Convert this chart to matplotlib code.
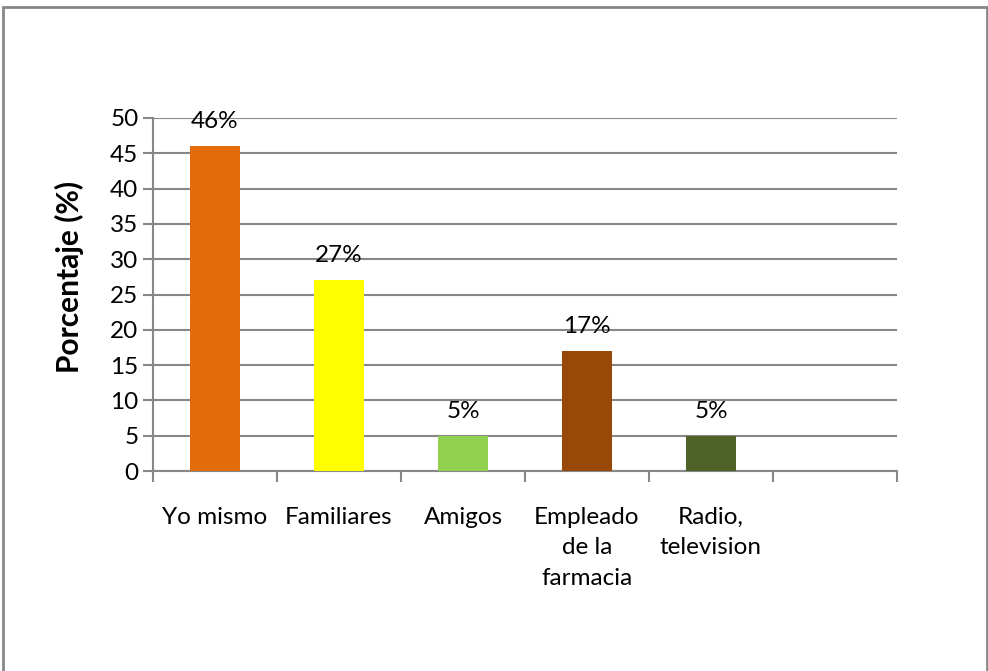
import matplotlib.pyplot as plt
import matplotlib.patches as mpatches
import numpy as np

plt.rcParams['font.family'] = ['Lato', 'DejaVu Sans']

categorias = ['Yo mismo', 'Familiares', 'Amigos', 'Empleado\nde la\nfarmacia', 'Radio,\ntelevision', '']
porcentajes = [46, 27, 5, 17, 5, 0]
etiquetas = ['46%', '27%', '5%', '17%', '5%', '']
colores = ['#E36C0A', '#FFFF00', '#92D050', '#984807', '#4F6228', 'none']

fig = plt.figure(figsize=(9.88, 6.71), dpi=100)
ax = fig.add_axes([153/988, 1 - 471/671, (897 - 153)/988, (471 - 118)/671])

x = np.arange(len(categorias))
bars = ax.bar(x, porcentajes, 0.4, color=colores, zorder=3)

for xi, v, t in zip(x, porcentajes, etiquetas):
    if t:
        ax.annotate(t, (xi, v), xytext=(0, 10), textcoords='offset points',
                    ha='center', va='bottom', fontsize=17.5, color='black')

ax.set_xlim(-0.5, len(categorias) - 0.5)
ax.set_ylim(0, 50)
ax.set_yticks(np.arange(0, 51, 5))
ax.yaxis.grid(True, color='#878787', linewidth=1.5, zorder=0)

# category boundaries as major ticks, names on minor ticks
ax.set_xticks(np.arange(-0.5, len(categorias)), labels=[''] * (len(categorias) + 1))
ax.set_xticks(x, labels=categorias, minor=True)
for lab in ax.get_xticklabels(minor=True):
    lab.set_linespacing(1.55)
ax.tick_params(axis='x', which='major', length=8, width=1.5, color='#878787')
ax.tick_params(axis='x', which='minor', length=0, pad=26, labelsize=17.5)
ax.tick_params(axis='y', length=7, width=1.5, color='#878787', labelsize=17.5)

for s in ['top', 'right']:
    ax.spines[s].set_visible(False)
for s in ['left', 'bottom']:
    ax.spines[s].set_color('#878787')
    ax.spines[s].set_linewidth(1.5)

ax.set_ylabel('Porcentaje (%)', fontsize=21.5, fontweight='bold')
ax.yaxis.set_label_coords(-0.093, 0.55)

# outer frame of the chart
fig.patches.append(mpatches.Rectangle((3/988, -0.05), (987 - 3)/988, 1.05 - 7/671,
                                      transform=fig.transFigure, fill=False,
                                      edgecolor='#878787', linewidth=2))

fig.savefig('out.png', dpi=100)
